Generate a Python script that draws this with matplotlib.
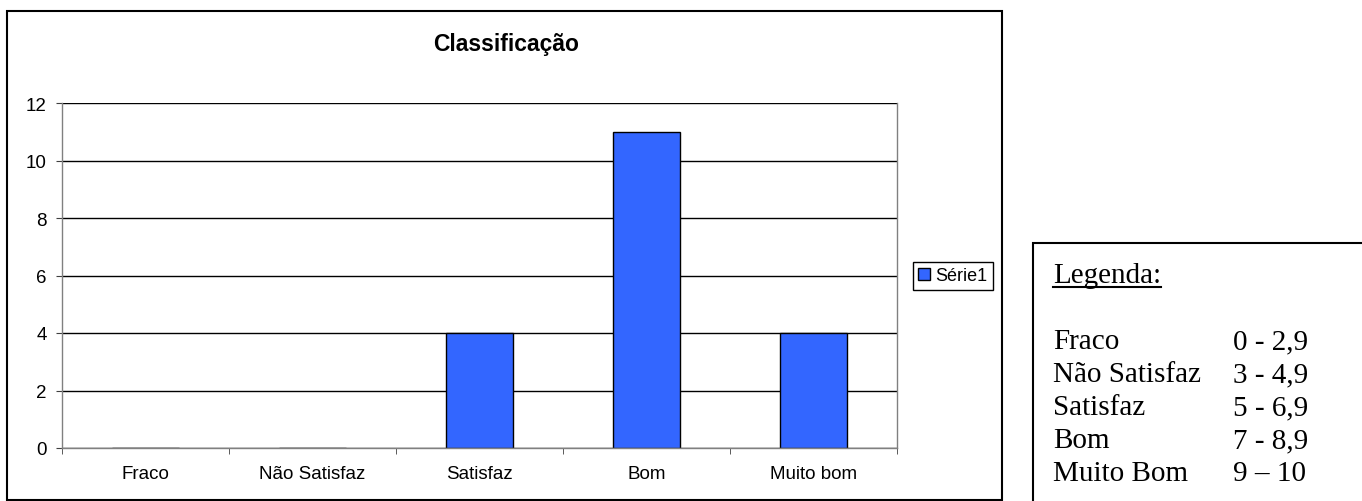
import matplotlib.pyplot as plt
from matplotlib.patches import Rectangle
from matplotlib.lines import Line2D
import numpy as np

categories = ['Fraco', 'Não Satisfaz', 'Satisfaz', 'Bom', 'Muito bom']
values = [0, 0, 4, 11, 4]
series_name = 'Série1'
y_ticks = [0, 2, 4, 6, 8, 10, 12]

box_title = 'Legenda:'
box_labels = ['Fraco', 'Não Satisfaz', 'Satisfaz', 'Bom', 'Muito Bom']
box_ranges = ['0 - 2,9', '3 - 4,9', '5 - 6,9', '7 - 8,9', '9 – 10']

W, H = 1362, 502
fig = plt.figure(figsize=(W / 100, H / 100), dpi=100)
plt.rcParams['font.family'] = ['Liberation Sans', 'DejaVu Sans']

def px(x0, y0, x1, y1):
    # pixel box (top-left origin) -> figure fraction rect
    return [x0 / W, 1 - y1 / H, (x1 - x0) / W, (y1 - y0) / H]

# outer chart frame
fig.patches.append(Rectangle((7 / W, 1 - 501 / H), (1002 - 7) / W, (501 - 12) / H,
                             transform=fig.transFigure, fill=False, lw=1.5, ec='black'))

ax = fig.add_axes(px(62, 104, 897, 449))
x = np.arange(len(categories))
bars = ax.bar(x, values, width=0.4, color='#3366FF', edgecolor='black', lw=1,
              label=series_name, zorder=3)
ax.set_xlim(-0.5, len(categories) - 0.5)
ax.set_ylim(0, 12)
ax.set_yticks(y_ticks)
ax.yaxis.grid(True, color='black', lw=1, zorder=0)
ax.set_axisbelow(True)
ax.set_xticks(x)
ax.set_xticklabels(categories, fontsize=13.5)
ax.set_xticks(np.arange(len(categories) + 1) - 0.5, minor=True)
ax.tick_params(axis='x', which='major', length=0, pad=12)
ax.tick_params(axis='x', which='minor', length=4, color='#404040', direction='out')
ax.tick_params(axis='y', length=4, color='#404040', labelsize=13.5, pad=7)
for s in ['left', 'bottom', 'right']:
    ax.spines[s].set_color('#808080')
    ax.spines[s].set_linewidth(1)
    ax.spines[s].set_zorder(4)
ax.spines['top'].set_visible(False)

fig.text(506 / W, 1 - 44 / H, 'Classificação', ha='center', va='center',
         fontsize=16.5, fontweight='bold')

leg = fig.legend(handles=[bars], labels=[series_name], loc='center left',
                 bbox_to_anchor=(913 / W, 1 - 277 / H), fontsize=13,
                 frameon=True, fancybox=False, edgecolor='black', framealpha=1,
                 handlelength=0.65, handleheight=0.65, handletextpad=0.3,
                 borderpad=0.3, borderaxespad=0)
leg.get_frame().set_linewidth(1)

# text box on the right
fig.patches.append(Rectangle((1033 / W, 1 - 520 / H), (1400 - 1033) / W, (520 - 244) / H,
                             transform=fig.transFigure, fill=False, lw=1.5, ec='black'))
serif = ['Liberation Serif', 'DejaVu Serif']
t = fig.text(1053 / W, 1 - 276 / H, box_title, ha='left', va='center',
             fontsize=21, family=serif)
fig.canvas.draw()
bb = t.get_window_extent().transformed(fig.transFigure.inverted())
fig.add_artist(Line2D([bb.x0, bb.x1], [1 - 288 / H] * 2, transform=fig.transFigure,
                      color='black', lw=1.5))
for i, (lab, rng) in enumerate(zip(box_labels, box_ranges)):
    yy = 1 - (342 + i * 33) / H
    fig.text(1053 / W, yy, lab, ha='left', va='center', fontsize=21, family=serif)
    fig.text(1233 / W, yy, rng, ha='left', va='center', fontsize=21, family=serif)

fig.savefig('out.png', dpi=100)
